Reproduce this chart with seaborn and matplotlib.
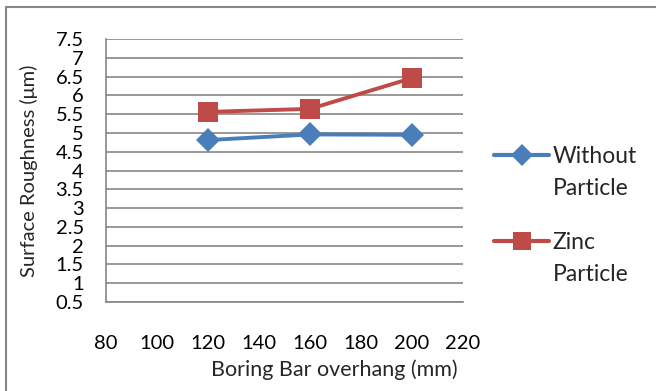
import matplotlib
matplotlib.use("Agg")
import matplotlib.pyplot as plt
import seaborn as sns
import pandas as pd
from matplotlib.lines import Line2D

overhang = [120, 160, 200]
without_particle = [4.81, 4.96, 4.95]
zinc_particle = [5.56, 5.64, 6.46]
series_names = ["Without Particle", "Zinc Particle"]
y_ticks = [0.5, 1, 1.5, 2, 2.5, 3, 3.5, 4, 4.5, 5, 5.5, 6, 6.5, 7, 7.5]
x_ticks = [80, 100, 120, 140, 160, 180, 200, 220]

sns.set_theme(style="white")
plt.rcParams['font.family'] = ['Lato', 'DejaVu Sans']

df = pd.DataFrame({
    "x": overhang * 2,
    "y": without_particle + zinc_particle,
    "series": [series_names[0]] * 3 + [series_names[1]] * 3,
})

blue = "#4A7EBB"
red = "#BE4B48"

fig = plt.figure(figsize=(6.56, 3.91), dpi=100)
ax = fig.add_axes([106/656, 1 - 302/391, (463-106)/656, (302-39)/391])

sns.lineplot(data=df, x="x", y="y", hue="series", style="series",
             markers={series_names[0]: "D", series_names[1]: "s"},
             dashes=False, palette={series_names[0]: blue, series_names[1]: red},
             linewidth=2.8, markersize=11, markeredgewidth=0, ax=ax, legend=False)
for ln, ms in zip(ax.get_lines(), [12, 14]):
    ln.set_markersize(ms)

ax.set_xlim(80, 220)
ax.set_ylim(0.5, 7.5)
ax.set_xticks(x_ticks)
ax.set_yticks(y_ticks)
ax.set_yticklabels([f"{v:g}" for v in y_ticks])
ax.tick_params(axis="both", length=0, labelsize=14.5, colors="black")
ax.tick_params(axis="x", pad=24)
ax.tick_params(axis="y", pad=16)
ax.grid(axis="y", color="#868686", linewidth=1.2)
ax.grid(axis="x", visible=False)
for s in ["top", "right"]:
    ax.spines[s].set_visible(False)
for s in ["left", "bottom"]:
    ax.spines[s].set_color("#868686")
    ax.spines[s].set_linewidth(1.2)
ax.set_axisbelow(True)

ax.set_xlabel("Boring Bar overhang (mm)", fontsize=15.5)
ax.xaxis.set_label_coords((334 - 106) / 357, (302 - 370) / 263)
ax.xaxis.label.set_va("center")
ax.set_ylabel("Surface Roughness (μm)", fontsize=14.5)
ax.yaxis.set_label_coords((29 - 106) / 357, 0.5)
ax.yaxis.label.set_va("center")

blank = Line2D([0], [0], color="none")
h_blue = Line2D([0], [0], color=blue, lw=3, marker="D", markersize=11, markeredgewidth=0)
h_red = Line2D([0], [0], color=red, lw=3, marker="s", markersize=13, markeredgewidth=0)

leg_kw = dict(frameon=False, fontsize=16.5, handlelength=2.4, handletextpad=0.15,
              labelspacing=0.5, borderpad=0, borderaxespad=0)
leg1 = fig.legend([h_blue, blank], ["Without", "Particle"], loc="upper left",
                  bbox_to_anchor=(494/656, 1 - 146/391), **leg_kw)
leg2 = fig.legend([h_red, blank], ["Zinc", "Particle"], loc="upper left",
                  bbox_to_anchor=(494/656, 1 - 232/391), **leg_kw)

fig.add_artist(Line2D([6/656, 1], [1 - 7/391, 1 - 7/391], color="#868686", lw=1.5,
                      transform=fig.transFigure))
fig.add_artist(Line2D([6/656, 6/656], [0, 1 - 7/391], color="#868686", lw=1.5,
                      transform=fig.transFigure))

fig.savefig("out.png", dpi=100)
